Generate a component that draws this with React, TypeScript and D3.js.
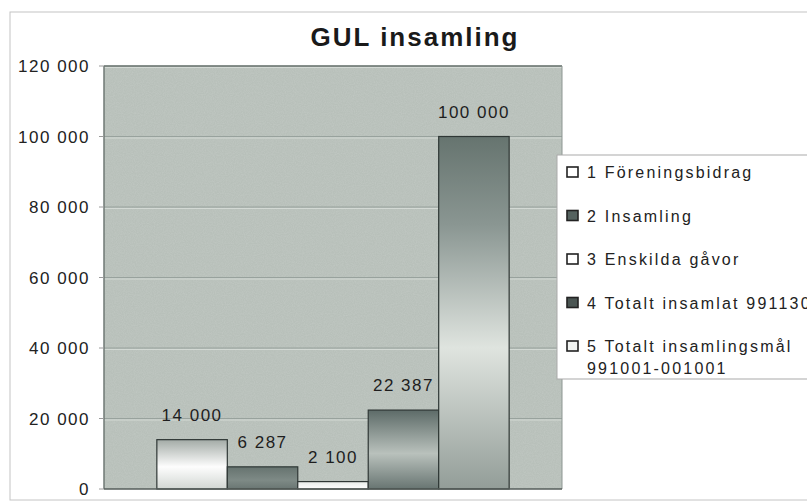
import React from 'react';
import * as d3 from 'd3';

const categories = [
  '1 Föreningsbidrag',
  '2 Insamling',
  '3 Enskilda gåvor',
  '4 Totalt insamlat 991130',
  '5 Totalt insamlingsmål 991001-001001',
];
const values = [14000, 6287, 2100, 22387, 100000];
const yTicks = [0, 20000, 40000, 60000, 80000, 100000, 120000];
const legendLines = [
  ['1 Föreningsbidrag'],
  ['2 Insamling'],
  ['3 Enskilda gåvor'],
  ['4 Totalt insamlat 991130'],
  ['5 Totalt insamlingsmål', '991001-001001'],
];

// gradient stops per bar (vertical, top -> bottom)
const barStops = [
  [['0%', '#a3aba6'], ['55%', '#fdfdfd'], ['100%', '#d2d7d3']],
  [['0%', '#66736f'], ['60%', '#7e8a86'], ['100%', '#6a7673']],
  [['0%', '#e8ece9'], ['100%', '#ffffff']],
  [['0%', '#5d6b68'], ['55%', '#b9c1bc'], ['100%', '#687572']],
  [['0%', '#66746f'], ['25%', '#8a9692'], ['60%', '#dfe4df'], ['100%', '#939d98']],
];
const swatchFill = ['#ffffff', '#55625f', '#ffffff', '#4a5552', '#f2f4f2'];

const fmt = d3.formatLocale({ thousands: ' ', grouping: [3], decimal: ',', currency: ['', ''] }).format(',');

export default function App() {
  const width = 807;
  const height = 502;
  const plot = { left: 104, right: 562, top: 66, bottom: 489 };

  const x = d3.scaleBand<string>()
    .domain(categories)
    .range([plot.left, plot.right])
    .paddingInner(0)
    .paddingOuter(0.75);

  const y = d3.scaleLinear()
    .domain([0, 120000])
    .range([plot.bottom, plot.top]);

  const font = 'Liberation Sans, Arial, sans-serif';

  return (
    <svg width={width} height={height} style={{ position: 'absolute', left: 0, top: 0, background: '#fff' }}>
      <defs>
        {barStops.map((stops, i) => (
          <linearGradient key={i} id={`bar${i}`} x1="0" y1="0" x2="0" y2="1">
            {stops.map(([o, c]) => <stop key={o} offset={o} stopColor={c} />)}
          </linearGradient>
        ))}
        <filter id="grain" x="0" y="0" width="100%" height="100%">
          <feTurbulence type="fractalNoise" baseFrequency="0.9" numOctaves="2" seed="3" result="n" />
          <feColorMatrix in="n" type="matrix"
            values="0 0 0 0 1  0 0 0 0 1  0 0 0 0 1  0 0 0 0.35 -0.1" />
        </filter>
      </defs>

      {/* chart frame */}
      <rect x={10} y={12} width={830} height={488} fill="#fff" stroke="#c4c4c4" />

      <text x={415} y={46} textAnchor="middle" fontFamily={font} fontWeight="bold"
        fontSize={26} letterSpacing={2} fill="#1a1a1a">GUL insamling</text>

      {/* plot area */}
      <rect x={plot.left} y={plot.top} width={plot.right - plot.left} height={plot.bottom - plot.top}
        fill="#b8c0ba" />
      <rect x={plot.left} y={plot.top} width={plot.right - plot.left} height={plot.bottom - plot.top}
        filter="url(#grain)" opacity={0.5} />

      {yTicks.slice(1).map(t => (
        <g key={t}>
          <line x1={plot.left} x2={plot.right} y1={y(t)} y2={y(t)} stroke="#98a29d" />
          <line x1={plot.left} x2={plot.right} y1={y(t) + 1.5} y2={y(t) + 1.5} stroke="#d3d9d4" />
        </g>
      ))}

      <line x1={plot.left} x2={plot.right} y1={plot.top} y2={plot.top} stroke="#6f7874" strokeWidth={1.5} />
      <line x1={plot.left} x2={plot.left} y1={plot.top} y2={plot.bottom} stroke="#6f7874" strokeWidth={1.5} />
      <line x1={plot.right} x2={plot.right} y1={plot.top} y2={plot.bottom} stroke="#8d9692" />

      {/* y axis */}
      {yTicks.map(t => (
        <g key={t}>
          <line x1={plot.left - 5} x2={plot.left} y1={y(t)} y2={y(t)} stroke="#9a9a9a" />
          <text x={90} y={y(t) + 6} textAnchor="end" fontFamily={font} fontSize={17}
            letterSpacing={1.5} fill="#222">{fmt(t)}</text>
        </g>
      ))}

      {/* bars */}
      {categories.map((c, i) => (
        <g key={c}>
          <rect x={x(c)} y={y(values[i])} width={x.bandwidth()} height={y(0) - y(values[i])}
            fill={`url(#bar${i})`} stroke="#2f3735" strokeWidth={1.2} />
          <text x={(x(c) as number) + x.bandwidth() / 2} y={y(values[i]) - 19} textAnchor="middle"
            fontFamily={font} fontSize={17} letterSpacing={1.5} fill="#1e1e1e">{fmt(values[i])}</text>
        </g>
      ))}

      <line x1={plot.left} x2={plot.right} y1={plot.bottom} y2={plot.bottom} stroke="#555d5a" strokeWidth={1.5} />

      {/* legend */}
      <rect x={557} y={155} width={270} height={224} fill="#fff" stroke="#a9a9a9" />
      {legendLines.map((lines, i) => {
        const ly = 178 + i * 43.5;
        return (
          <g key={i}>
            <rect x={567} y={ly - 11} width={11} height={10} fill={swatchFill[i]} stroke="#222" strokeWidth={1.6} />
            {lines.map((l, j) => (
              <text key={j} x={587} y={ly + j * 22} fontFamily={font} fontSize={16}
                letterSpacing={2.2} fill="#222">{l}</text>
            ))}
          </g>
        );
      })}
    </svg>
  );
}
